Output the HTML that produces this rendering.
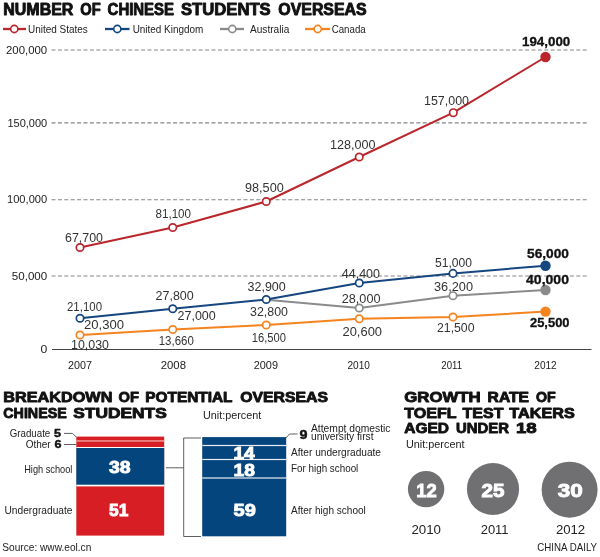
<!DOCTYPE html>
<html><head><meta charset="utf-8"><title>Number of Chinese students overseas</title>
<style>
html,body{margin:0;padding:0;background:#fff;}
svg{display:block;font-family:"Liberation Sans",sans-serif;}
text{white-space:pre;}
</style></head><body>
<svg width="600" height="557" viewBox="0 0 600 557">
<rect width="600" height="557" fill="#fff"/>
<line x1="51.5" y1="50" x2="589" y2="50" stroke="#858585" stroke-width="1.1" stroke-dasharray="4 2.4"/>
<line x1="51.5" y1="122.9" x2="589" y2="122.9" stroke="#858585" stroke-width="1.1" stroke-dasharray="4 2.4"/>
<line x1="51.5" y1="199.7" x2="589" y2="199.7" stroke="#858585" stroke-width="1.1" stroke-dasharray="4 2.4"/>
<line x1="51.5" y1="276" x2="589" y2="276" stroke="#858585" stroke-width="1.1" stroke-dasharray="4 2.4"/>
<line x1="52" y1="349.5" x2="591.5" y2="349.5" stroke="#444" stroke-width="1"/>
<text x="3.3" y="15" font-size="16" fill="#111" font-weight="bold" textLength="70.1" lengthAdjust="spacingAndGlyphs" stroke="#111" stroke-width="0.9" stroke-linejoin="round">NUMBER</text>
<text x="80.3" y="15" font-size="16" fill="#111" font-weight="bold" textLength="20.4" lengthAdjust="spacingAndGlyphs" stroke="#111" stroke-width="0.9" stroke-linejoin="round">OF</text>
<text x="107.6" y="15" font-size="16" fill="#111" font-weight="bold" textLength="66.4" lengthAdjust="spacingAndGlyphs" stroke="#111" stroke-width="0.9" stroke-linejoin="round">CHINESE</text>
<text x="181.0" y="15" font-size="16" fill="#111" font-weight="bold" textLength="89.7" lengthAdjust="spacingAndGlyphs" stroke="#111" stroke-width="0.9" stroke-linejoin="round">STUDENTS</text>
<text x="278.3" y="15" font-size="16" fill="#111" font-weight="bold" textLength="88.4" lengthAdjust="spacingAndGlyphs" stroke="#111" stroke-width="0.9" stroke-linejoin="round">OVERSEAS</text>
<text x="3.3" y="401.8" font-size="14.8" fill="#111" font-weight="bold" textLength="109.1" lengthAdjust="spacingAndGlyphs" stroke="#111" stroke-width="0.9" stroke-linejoin="round">BREAKDOWN</text>
<text x="118.6" y="401.8" font-size="14.8" fill="#111" font-weight="bold" textLength="20.4" lengthAdjust="spacingAndGlyphs" stroke="#111" stroke-width="0.9" stroke-linejoin="round">OF</text>
<text x="145.3" y="401.8" font-size="14.8" fill="#111" font-weight="bold" textLength="87.1" lengthAdjust="spacingAndGlyphs" stroke="#111" stroke-width="0.9" stroke-linejoin="round">POTENTIAL</text>
<text x="240.3" y="401.8" font-size="14.8" fill="#111" font-weight="bold" textLength="87.7" lengthAdjust="spacingAndGlyphs" stroke="#111" stroke-width="0.9" stroke-linejoin="round">OVERSEAS</text>
<text x="3.3" y="417.5" font-size="14.8" fill="#111" font-weight="bold" textLength="63.4" lengthAdjust="spacingAndGlyphs" stroke="#111" stroke-width="0.9" stroke-linejoin="round">CHINESE</text>
<text x="73.3" y="417.5" font-size="14.8" fill="#111" font-weight="bold" textLength="93.4" lengthAdjust="spacingAndGlyphs" stroke="#111" stroke-width="0.9" stroke-linejoin="round">STUDENTS</text>
<text x="404.3" y="402.3" font-size="14.8" fill="#111" font-weight="bold" textLength="76.4" lengthAdjust="spacingAndGlyphs" stroke="#111" stroke-width="0.9" stroke-linejoin="round">GROWTH</text>
<text x="487.6" y="402.3" font-size="14.8" fill="#111" font-weight="bold" textLength="41.4" lengthAdjust="spacingAndGlyphs" stroke="#111" stroke-width="0.9" stroke-linejoin="round">RATE</text>
<text x="536.0" y="402.3" font-size="14.8" fill="#111" font-weight="bold" textLength="19.7" lengthAdjust="spacingAndGlyphs" stroke="#111" stroke-width="0.9" stroke-linejoin="round">OF</text>
<text x="404.3" y="417.8" font-size="14.8" fill="#111" font-weight="bold" textLength="52.4" lengthAdjust="spacingAndGlyphs" stroke="#111" stroke-width="0.9" stroke-linejoin="round">TOEFL</text>
<text x="462.6" y="417.8" font-size="14.8" fill="#111" font-weight="bold" textLength="40.8" lengthAdjust="spacingAndGlyphs" stroke="#111" stroke-width="0.9" stroke-linejoin="round">TEST</text>
<text x="509.3" y="417.8" font-size="14.8" fill="#111" font-weight="bold" textLength="65.4" lengthAdjust="spacingAndGlyphs" stroke="#111" stroke-width="0.9" stroke-linejoin="round">TAKERS</text>
<text x="404.3" y="433.3" font-size="14.8" fill="#111" font-weight="bold" textLength="44.7" lengthAdjust="spacingAndGlyphs" stroke="#111" stroke-width="0.9" stroke-linejoin="round">AGED</text>
<text x="456.0" y="433.3" font-size="14.8" fill="#111" font-weight="bold" textLength="53.0" lengthAdjust="spacingAndGlyphs" stroke="#111" stroke-width="0.9" stroke-linejoin="round">UNDER</text>
<text x="516.0" y="433.3" font-size="14.8" fill="#111" font-weight="bold" textLength="20.7" lengthAdjust="spacingAndGlyphs" stroke="#111" stroke-width="0.9" stroke-linejoin="round">18</text>
<line x1="3" y1="29" x2="26" y2="29" stroke="#ba262b" stroke-width="2.3"/>
<circle cx="14.3" cy="29" r="3.6" fill="#fff" stroke="#ba262b" stroke-width="1.6"/>
<line x1="105" y1="29" x2="129.5" y2="29" stroke="#15467f" stroke-width="2.3"/>
<circle cx="117.3" cy="29" r="3.6" fill="#fff" stroke="#15467f" stroke-width="1.6"/>
<line x1="220" y1="29" x2="244" y2="29" stroke="#8a8b8d" stroke-width="2.3"/>
<circle cx="232.3" cy="29" r="3.6" fill="#fff" stroke="#8a8b8d" stroke-width="1.6"/>
<line x1="305" y1="29" x2="330" y2="29" stroke="#f5831f" stroke-width="2.3"/>
<circle cx="317.7" cy="29" r="3.6" fill="#fff" stroke="#f5831f" stroke-width="1.6"/>
<text x="28" y="32.8" font-size="11" fill="#222" font-weight="normal" textLength="59.7" lengthAdjust="spacingAndGlyphs">United States</text>
<text x="132.7" y="32.8" font-size="11" fill="#222" font-weight="normal" textLength="70.6" lengthAdjust="spacingAndGlyphs">United Kingdom</text>
<text x="250" y="32.8" font-size="11" fill="#222" font-weight="normal" textLength="39.3" lengthAdjust="spacingAndGlyphs">Australia</text>
<text x="331.7" y="32.8" font-size="11" fill="#222" font-weight="normal" textLength="34" lengthAdjust="spacingAndGlyphs">Canada</text>
<text x="6" y="54.4" font-size="11.6" fill="#1c1c1c" font-weight="normal" textLength="41.2" lengthAdjust="spacingAndGlyphs">200,000</text>
<text x="7.4" y="127.1" font-size="11.6" fill="#1c1c1c" font-weight="normal" textLength="39.800000000000004" lengthAdjust="spacingAndGlyphs">150,000</text>
<text x="7" y="203.2" font-size="11.6" fill="#1c1c1c" font-weight="normal" textLength="40.2" lengthAdjust="spacingAndGlyphs">100,000</text>
<text x="11.8" y="280.4" font-size="11.6" fill="#1c1c1c" font-weight="normal" textLength="35.400000000000006" lengthAdjust="spacingAndGlyphs">50,000</text>
<text x="40.4" y="353.2" font-size="11.6" fill="#1c1c1c" font-weight="normal" textLength="6.800000000000004" lengthAdjust="spacingAndGlyphs">0</text>
<text x="68" y="369.4" font-size="11.8" fill="#1c1c1c" font-weight="normal" textLength="24" lengthAdjust="spacingAndGlyphs">2007</text>
<text x="160.75" y="369.4" font-size="11.8" fill="#1c1c1c" font-weight="normal" textLength="25.25" lengthAdjust="spacingAndGlyphs">2008</text>
<text x="253.75" y="369.4" font-size="11.8" fill="#1c1c1c" font-weight="normal" textLength="24.25" lengthAdjust="spacingAndGlyphs">2009</text>
<text x="347.5" y="369.4" font-size="11.8" fill="#1c1c1c" font-weight="normal" textLength="22.5" lengthAdjust="spacingAndGlyphs">2010</text>
<text x="441.3" y="369.4" font-size="11.8" fill="#1c1c1c" font-weight="normal" textLength="20.69999999999999" lengthAdjust="spacingAndGlyphs">2011</text>
<text x="534.3" y="369.4" font-size="11.8" fill="#1c1c1c" font-weight="normal" textLength="22.40000000000009" lengthAdjust="spacingAndGlyphs">2012</text>
<polyline points="266.25,299.8 359.25,308 453,295.7 545.5,290" fill="none" stroke="#8a8b8d" stroke-width="2" stroke-linejoin="round"/>
<circle cx="359.25" cy="308" r="3.7" fill="#fff" stroke="#8a8b8d" stroke-width="1.7"/>
<circle cx="453" cy="295.7" r="3.7" fill="#fff" stroke="#8a8b8d" stroke-width="1.7"/>
<circle cx="545.5" cy="290" r="5.2" fill="#8a8b8d"/>
<polyline points="80,335 172.75,329.5 266.25,325 359.25,318.75 453,317 545.5,311.6" fill="none" stroke="#f5831f" stroke-width="2" stroke-linejoin="round"/>
<circle cx="80" cy="335" r="3.7" fill="#fff" stroke="#f5831f" stroke-width="1.7"/>
<circle cx="172.75" cy="329.5" r="3.7" fill="#fff" stroke="#f5831f" stroke-width="1.7"/>
<circle cx="266.25" cy="325" r="3.7" fill="#fff" stroke="#f5831f" stroke-width="1.7"/>
<circle cx="359.25" cy="318.75" r="3.7" fill="#fff" stroke="#f5831f" stroke-width="1.7"/>
<circle cx="453" cy="317" r="3.7" fill="#fff" stroke="#f5831f" stroke-width="1.7"/>
<circle cx="545.5" cy="311.6" r="5.2" fill="#f5831f"/>
<polyline points="80,318.25 172.75,308.75 266.25,299.5 359.25,283 453,273.4 545.5,265.7" fill="none" stroke="#15467f" stroke-width="2" stroke-linejoin="round"/>
<circle cx="80" cy="318.25" r="3.7" fill="#fff" stroke="#15467f" stroke-width="1.7"/>
<circle cx="172.75" cy="308.75" r="3.7" fill="#fff" stroke="#15467f" stroke-width="1.7"/>
<circle cx="266.25" cy="299.5" r="3.7" fill="#fff" stroke="#15467f" stroke-width="1.7"/>
<circle cx="359.25" cy="283" r="3.7" fill="#fff" stroke="#15467f" stroke-width="1.7"/>
<circle cx="453" cy="273.4" r="3.7" fill="#fff" stroke="#15467f" stroke-width="1.7"/>
<circle cx="545.5" cy="265.7" r="5.2" fill="#15467f"/>
<polyline points="80,247.5 172.75,227.5 266.25,201.5 359.25,157 453.3,112.7 545.5,57" fill="none" stroke="#ba262b" stroke-width="2" stroke-linejoin="round"/>
<circle cx="80" cy="247.5" r="3.7" fill="#fff" stroke="#ba262b" stroke-width="1.7"/>
<circle cx="172.75" cy="227.5" r="3.7" fill="#fff" stroke="#ba262b" stroke-width="1.7"/>
<circle cx="266.25" cy="201.5" r="3.7" fill="#fff" stroke="#ba262b" stroke-width="1.7"/>
<circle cx="359.25" cy="157" r="3.7" fill="#fff" stroke="#ba262b" stroke-width="1.7"/>
<circle cx="453.3" cy="112.7" r="3.7" fill="#fff" stroke="#ba262b" stroke-width="1.7"/>
<circle cx="545.5" cy="57" r="5.2" fill="#ba262b"/>
<text x="65" y="241.5" font-size="12.3" fill="#333" font-weight="normal" textLength="38" lengthAdjust="spacingAndGlyphs">67,700</text>
<text x="155.5" y="218.0" font-size="12.3" fill="#333" font-weight="normal" textLength="35.5" lengthAdjust="spacingAndGlyphs">81,100</text>
<text x="245" y="191.5" font-size="12.3" fill="#333" font-weight="normal" textLength="38.75" lengthAdjust="spacingAndGlyphs">98,500</text>
<text x="330" y="148.75" font-size="12.3" fill="#333" font-weight="normal" textLength="45.5" lengthAdjust="spacingAndGlyphs">128,000</text>
<text x="424" y="104.5" font-size="12.3" fill="#333" font-weight="normal" textLength="45" lengthAdjust="spacingAndGlyphs">157,000</text>
<text x="67" y="310.5" font-size="12.3" fill="#333" font-weight="normal" textLength="35" lengthAdjust="spacingAndGlyphs">21,100</text>
<text x="155.5" y="300.0" font-size="12.3" fill="#333" font-weight="normal" textLength="38.25" lengthAdjust="spacingAndGlyphs">27,800</text>
<text x="247.5" y="291.0" font-size="12.3" fill="#333" font-weight="normal" textLength="38.25" lengthAdjust="spacingAndGlyphs">32,900</text>
<text x="341.75" y="278.0" font-size="12.3" fill="#333" font-weight="normal" textLength="38.25" lengthAdjust="spacingAndGlyphs">44,400</text>
<text x="435" y="267.3" font-size="12.3" fill="#333" font-weight="normal" textLength="37" lengthAdjust="spacingAndGlyphs">51,000</text>
<text x="84" y="329.25" font-size="12.3" fill="#333" font-weight="normal" textLength="40" lengthAdjust="spacingAndGlyphs">20,300</text>
<text x="177.5" y="319.5" font-size="12.3" fill="#333" font-weight="normal" textLength="38.25" lengthAdjust="spacingAndGlyphs">27,000</text>
<text x="250" y="316.0" font-size="12.3" fill="#333" font-weight="normal" textLength="38" lengthAdjust="spacingAndGlyphs">32,800</text>
<text x="341.75" y="303.0" font-size="12.3" fill="#333" font-weight="normal" textLength="38.75" lengthAdjust="spacingAndGlyphs">28,000</text>
<text x="434" y="290.5" font-size="12.3" fill="#333" font-weight="normal" textLength="39" lengthAdjust="spacingAndGlyphs">36,200</text>
<text x="71" y="348.5" font-size="12.3" fill="#333" font-weight="normal" textLength="38" lengthAdjust="spacingAndGlyphs">10,030</text>
<text x="158.75" y="344.5" font-size="12.3" fill="#333" font-weight="normal" textLength="35.0" lengthAdjust="spacingAndGlyphs">13,660</text>
<text x="251.75" y="341.5" font-size="12.3" fill="#333" font-weight="normal" textLength="34.25" lengthAdjust="spacingAndGlyphs">16,500</text>
<text x="342.5" y="335.5" font-size="12.3" fill="#333" font-weight="normal" textLength="39.5" lengthAdjust="spacingAndGlyphs">20,600</text>
<text x="437" y="331.9" font-size="12.3" fill="#333" font-weight="normal" textLength="37.5" lengthAdjust="spacingAndGlyphs">21,500</text>
<text x="522" y="46.0" font-size="12.3" fill="#111" font-weight="bold" textLength="48.3" lengthAdjust="spacingAndGlyphs" stroke="#111" stroke-width="0.3">194,000</text>
<text x="527" y="258.3" font-size="12.3" fill="#111" font-weight="bold" textLength="42" lengthAdjust="spacingAndGlyphs" stroke="#111" stroke-width="0.3">56,000</text>
<text x="526" y="283.5" font-size="12.3" fill="#111" font-weight="bold" textLength="43" lengthAdjust="spacingAndGlyphs" stroke="#111" stroke-width="0.3">40,000</text>
<text x="530" y="326.8" font-size="12.3" fill="#111" font-weight="bold" textLength="39.5" lengthAdjust="spacingAndGlyphs" stroke="#111" stroke-width="0.3">25,500</text>
<text x="203" y="418.7" font-size="10.6" fill="#222" font-weight="normal" textLength="58.3" lengthAdjust="spacingAndGlyphs">Unit:percent</text>
<rect x="76.3" y="436.6" width="87.9" height="99" fill="#d81e25"/>
<rect x="76.3" y="440.3" width="87.9" height="1.3" fill="#f4a9a6"/>
<rect x="76.3" y="447" width="87.9" height="39.4" fill="#fff"/>
<rect x="76.3" y="448" width="87.9" height="36.7" fill="#05457d"/>
<path d="M64 433.4 H72.6 L76.2 437" fill="none" stroke="#4d4d4d" stroke-width="0.9"/>
<path d="M64 444.5 H76.2" fill="none" stroke="#4d4d4d" stroke-width="0.9"/>
<text x="9.7" y="437.3" font-size="10.8" fill="#222" font-weight="normal" textLength="40.6" lengthAdjust="spacingAndGlyphs">Graduate</text>
<text x="54" y="437.3" font-size="11.5" fill="#111" font-weight="bold" textLength="7" lengthAdjust="spacingAndGlyphs" stroke="#111" stroke-width="0.45">5</text>
<text x="25.7" y="448.2" font-size="10.8" fill="#222" font-weight="normal" textLength="25" lengthAdjust="spacingAndGlyphs">Other</text>
<text x="54.6" y="448.1" font-size="11.5" fill="#111" font-weight="bold" textLength="7" lengthAdjust="spacingAndGlyphs" stroke="#111" stroke-width="0.45">6</text>
<text x="24.2" y="472.6" font-size="10.8" fill="#222" font-weight="normal" textLength="48.2" lengthAdjust="spacingAndGlyphs">High school</text>
<text x="4.5" y="514.3" font-size="10.8" fill="#222" font-weight="normal" textLength="68" lengthAdjust="spacingAndGlyphs">Undergraduate</text>
<text x="109" y="473.1" font-size="17.3" fill="#fff" font-weight="bold" textLength="21.6" lengthAdjust="spacingAndGlyphs" stroke="#fff" stroke-width="0.9">38</text>
<text x="109" y="516" font-size="17.3" fill="#fff" font-weight="bold" textLength="19.3" lengthAdjust="spacingAndGlyphs" stroke="#fff" stroke-width="0.9">51</text>
<text x="2.3" y="551.4" font-size="11.3" fill="#222" font-weight="normal" textLength="89" lengthAdjust="spacingAndGlyphs">Source: www.eol.cn</text>
<path d="M166 467.8 H183.7 M201 438 H183.7 V536.5 H201" fill="none" stroke="#4d4d4d" stroke-width="0.9"/>
<rect x="202.2" y="437.1" width="84" height="99.2" fill="#05457d"/>
<rect x="202.2" y="444.9" width="84" height="1.2" fill="#e8edf3"/>
<rect x="202.2" y="458.9" width="84" height="1.2" fill="#e8edf3"/>
<rect x="202.2" y="477.4" width="84" height="1.2" fill="#e8edf3"/>
<text x="233.5" y="459.2" font-size="17.3" fill="#fff" font-weight="bold" textLength="21.2" lengthAdjust="spacingAndGlyphs" stroke="#fff" stroke-width="0.9">14</text>
<text x="233.5" y="476" font-size="17.3" fill="#fff" font-weight="bold" textLength="21.4" lengthAdjust="spacingAndGlyphs" stroke="#fff" stroke-width="0.9">18</text>
<text x="233.5" y="516" font-size="17.3" fill="#fff" font-weight="bold" textLength="22.3" lengthAdjust="spacingAndGlyphs" stroke="#fff" stroke-width="0.9">59</text>
<path d="M286.2 437.8 L289.5 434 H297.5" fill="none" stroke="#4d4d4d" stroke-width="0.9"/>
<text x="299.6" y="439" font-size="13" fill="#111" font-weight="bold" textLength="8" lengthAdjust="spacingAndGlyphs" stroke="#111" stroke-width="0.45">9</text>
<text x="311" y="431.8" font-size="11" fill="#222" font-weight="normal" textLength="79.5" lengthAdjust="spacingAndGlyphs">Attempt domestic</text>
<text x="311" y="440.3" font-size="11" fill="#222" font-weight="normal" textLength="62.5" lengthAdjust="spacingAndGlyphs">university first</text>
<text x="291" y="455.5" font-size="11" fill="#222" font-weight="normal" textLength="90" lengthAdjust="spacingAndGlyphs">After undergraduate</text>
<text x="291" y="472.3" font-size="11" fill="#222" font-weight="normal" textLength="67.3" lengthAdjust="spacingAndGlyphs">For high school</text>
<text x="291" y="514.4" font-size="11" fill="#222" font-weight="normal" textLength="74.8" lengthAdjust="spacingAndGlyphs">After high school</text>
<text x="406" y="447.6" font-size="10.6" fill="#222" font-weight="normal" textLength="58.5" lengthAdjust="spacingAndGlyphs">Unit:percent</text>
<circle cx="426.1" cy="489.1" r="18.2" fill="#707073"/>
<circle cx="493" cy="489" r="26.1" fill="#707073"/>
<circle cx="569.6" cy="489.7" r="28" fill="#707073"/>
<text x="416.2" y="496.6" font-size="18.7" fill="#fff" font-weight="bold" textLength="20.4" lengthAdjust="spacingAndGlyphs" stroke="#fff" stroke-width="0.9">12</text>
<text x="481.6" y="496.8" font-size="18.7" fill="#fff" font-weight="bold" textLength="23" lengthAdjust="spacingAndGlyphs" stroke="#fff" stroke-width="0.9">25</text>
<text x="557.8" y="496.8" font-size="18.7" fill="#fff" font-weight="bold" textLength="25" lengthAdjust="spacingAndGlyphs" stroke="#fff" stroke-width="0.9">30</text>
<text x="411.4" y="533.5" font-size="13.1" fill="#222" font-weight="normal" textLength="29.6" lengthAdjust="spacingAndGlyphs">2010</text>
<text x="480.7" y="533.5" font-size="13.1" fill="#222" font-weight="normal" textLength="27.9" lengthAdjust="spacingAndGlyphs">2011</text>
<text x="555.9" y="533.5" font-size="13.1" fill="#222" font-weight="normal" textLength="29.3" lengthAdjust="spacingAndGlyphs">2012</text>
<text x="537.3" y="550.9" font-size="10.3" fill="#222" font-weight="normal" textLength="59.8" lengthAdjust="spacingAndGlyphs">CHINA DAILY</text>
</svg>
</body></html>
